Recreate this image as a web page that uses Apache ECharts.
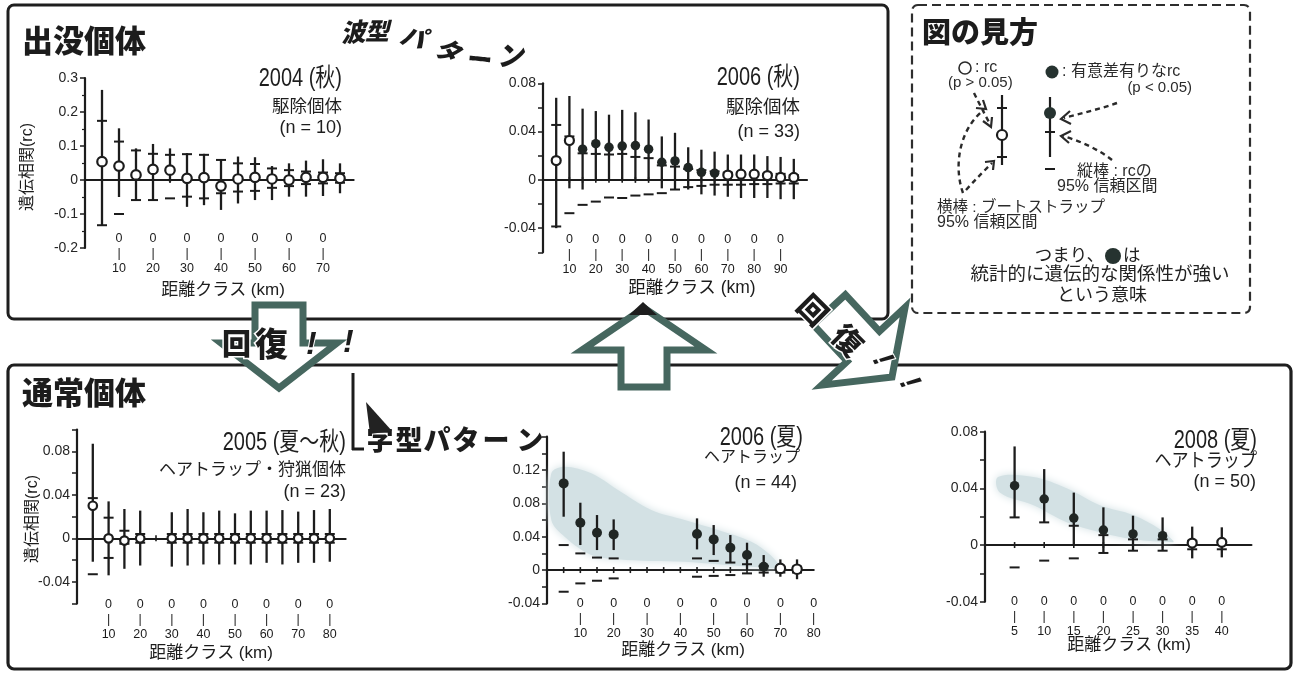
<!DOCTYPE html>
<html>
<head>
<meta charset="utf-8">
<script src="https://cdn.jsdelivr.net/npm/echarts@6/dist/echarts.min.js"></script>
<style>
html,body{margin:0;padding:0;background:#fff}
#c{width:1298px;height:674px}
</style>
</head>
<body>
<div id="c"></div>
<script>
// ---------- spatial genetic correlation (rc) by distance class ----------
// 2004 autumn, culled bears (n = 10)
const km2004   = [5,10,15,20,25,30,35,40,45,50,55,60,65,70,75];
const rc2004   = [0.054,0.041,0.015,0.031,0.029,0.005,0.007,-0.018,0.003,0.008,0.003,0.000,0.008,0.008,0.005];
const ciHi2004 = [0.265,0.152,0.093,0.106,0.093,0.079,0.077,0.059,0.069,0.067,0.041,0.049,0.057,0.061,0.049];
const ciLo2004 = [-0.133,-0.050,-0.059,-0.060,-0.005,-0.079,-0.074,-0.088,-0.069,-0.059,-0.059,-0.049,-0.049,-0.047,-0.039];
const bsHi2004 = [0.174,0.113,0.087,0.077,0.074,0.076,0.074,0.059,0.049,0.047,0.034,0.029,0.025,0.022,0.020];
const bsLo2004 = [-0.133,-0.100,-0.059,-0.059,-0.054,-0.049,-0.054,-0.039,-0.034,-0.032,-0.023,-0.018,-0.012,-0.010,-0.008];
const sig2004  = [0,0,0,0,0,0,0,0,0,0,0,0,0,0,0];

// 2006 autumn, culled bears (n = 33)
const km2006a   = [5,10,15,20,25,30,35,40,45,50,55,60,65,70,75,80,85,90,95];
const rc2006a   = [0.016,0.0326,0.0254,0.030,0.027,0.028,0.0284,0.0254,0.0146,0.0157,0.0102,0.0063,0.0055,0.004,0.0047,0.0047,0.0036,0.002,0.002];
const ciHi2006a = [0.068,0.0695,0.059,0.057,0.054,0.058,0.056,0.050,0.036,0.039,0.027,0.025,0.0234,0.021,0.021,0.021,0.0197,0.019,0.0174];
const ciLo2006a = [-0.040,-0.007,-0.008,-0.001,-0.001,-0.001,-0.001,-0.001,-0.007,-0.008,-0.008,-0.012,-0.013,-0.014,-0.015,-0.015,-0.015,-0.016,-0.016];
const bsHi2006a = [0.0455,0.036,0.022,0.0215,0.021,0.0215,0.019,0.018,0.012,0.011,0.009,0.008,0.007,0.006,0.006,0.006,0.005,0.005,0.004];
const bsLo2006a = [-0.0386,-0.0276,-0.0207,-0.018,-0.0146,-0.015,-0.013,-0.012,-0.011,-0.008,-0.006,-0.005,-0.004,-0.004,-0.004,-0.0035,-0.0035,-0.003,-0.003];
const sig2006a  = [0,0,1,1,1,1,1,1,1,1,1,1,1,0,0,0,0,0,0];

// 2005 summer-autumn, hair traps and hunting (n = 23)
const km2005   = [5,10,15,20,30,35,40,45,50,55,60,65,70,75,80];
const rc2005   = [0.030,0.000,-0.002,0.000,0.000,0.000,0.000,0.000,0.000,0.000,0.000,0.000,0.000,0.000,0.000];
const ciHi2005 = [0.087,0.034,0.027,0.0255,0.024,0.027,0.024,0.0255,0.023,0.0255,0.0255,0.026,0.0246,0.026,0.027];
const ciLo2005 = [-0.0215,-0.034,-0.028,-0.025,-0.026,-0.025,-0.024,-0.024,-0.024,-0.024,-0.0225,-0.024,-0.0225,-0.0225,-0.0215];
const bsHi2005 = [0.037,0.019,0.007,0.004,0.004,0.004,0.004,0.004,0.004,0.004,0.004,0.004,0.004,0.004,0.004];
const bsLo2005 = [-0.033,-0.018,-0.005,-0.004,-0.004,-0.004,-0.004,-0.004,-0.004,-0.004,-0.004,-0.004,-0.004,-0.004,-0.004];
const sig2005  = [0,0,0,0,0,0,0,0,0,0,0,0,0,0,0];

// 2006 summer, hair traps (n = 44)
const km2006s   = [5,10,15,20,45,50,55,60,65,70,75];
const rc2006s   = [0.104,0.0568,0.0448,0.0428,0.0432,0.0368,0.0268,0.018,0.004,0.002,0.001];
const ciHi2006s = [0.142,0.0808,0.066,0.0608,0.062,0.054,0.042,0.0328,0.018,0.0128,0.0128];
const ciLo2006s = [0.064,0.030,0.024,0.024,0.0248,0.018,0.0088,0.000,-0.008,-0.008,-0.011];
const bsHi2006s = [0.030,0.020,0.015,0.014,0.014,0.011,0.009,0.007,0.005,0.004,0.004];
const bsLo2006s = [-0.026,-0.016,-0.0128,-0.010,-0.008,-0.007,-0.006,-0.004,-0.003,-0.003,-0.003];
const sig2006s  = [1,1,1,1,1,1,1,1,1,0,0];
const band2006sKm = [1.3,5.3,13.3,21.3,31.3,41.3,51.3,61.3,67,70, 70,61.3,51.3,41.3,31.3,21.3,13.3,5.3,1.3];
const band2006sRc = [0.116,0.124,0.116,0.096,0.072,0.060,0.048,0.034,0.018,0.004, 0.002,0.004,0.007,0.010,0.011,0.013,0.018,0.040,0.060];

// 2008 summer, hair traps (n = 50)
const km2008   = [5,10,15,20,25,30,35,40];
const rc2008   = [0.0419,0.0325,0.019,0.0106,0.0078,0.0066,0.0014,0.0019];
const ciHi2008 = [0.0696,0.0536,0.037,0.0266,0.0207,0.0195,0.013,0.0125];
const ciLo2008 = [0.0195,0.016,0.000,-0.0056,-0.004,-0.004,-0.0094,-0.0087];
const bsHi2008 = [0.0195,0.016,0.0136,0.007,0.004,0.004,0.003,0.003];
const bsLo2008 = [-0.0158,-0.011,-0.0094,-0.0056,-0.004,-0.004,-0.003,-0.003];
const sig2008  = [1,1,1,1,1,1,0,0];
const band2008Km = [2.2,8.2,13.8,19.4,25.1,29.6,31.8, 31.8,25.1,19.4,13.8,8.2,2.5];
const band2008Rc = [0.048,0.048,0.040,0.028,0.021,0.011,0.003, 0.002,0.004,0.009,0.016,0.028,0.037];

// ---------- styling ----------
const LAT = '"Liberation Sans","Noto Sans CJK JP",sans-serif';
const CJK = '"Noto Sans CJK JP",sans-serif';
const INK = '#1c1c1c';
const ARROW = '#46675f';
const BAND = '#d3e1e4';
const DOT = '#263330';

const panels = [
  {left:85,  top:78,    width:268.6, height:170,   xMax:79,  yMin:-0.2,  yMax:0.3,  yInt:0.1,  labStep:0.1,  labMax:0.3,  digits:1, lastLab:70, xStep:10, labMargin:-16.5, minor:true,
   km:km2004, rc:rc2004, hi:ciHi2004, lo:ciLo2004, bh:bsHi2004, bl:bsLo2004, sig:sig2004, r:10},
  {left:543, top:83.3,  width:264,   height:169,   xMax:100, yMin:-0.06, yMax:0.08, yInt:0.02, labStep:0.04, labMax:0.08, digits:2, lastLab:90, xStep:10, labMargin:-20.5,
   km:km2006a, rc:rc2006a, hi:ciHi2006a, lo:ciLo2006a, bh:bsHi2006a, bl:bsLo2006a, sig:sig2006a, r:9.5},
  {left:77,  top:429.6, width:268.6, height:174,   xMax:85,  yMin:-0.06, yMax:0.10, yInt:0.02, labStep:0.04, labMax:0.08, digits:2, lastLab:80, xStep:10, labMargin:-7,
   km:km2005, rc:rc2005, hi:ciHi2005, lo:ciLo2005, bh:bsHi2005, bl:bsLo2005, sig:sig2005, r:9},
  {left:547, top:436.7, width:266.7, height:166.7, xMax:80,  yMin:-0.04, yMax:0.16, yInt:0.02, labStep:0.04, labMax:0.12, digits:2, lastLab:80, xStep:10, labMargin:-7,
   km:km2006s, rc:rc2006s, hi:ciHi2006s, lo:ciLo2006s, bh:bsHi2006s, bl:bsLo2006s, sig:sig2006s, r:10,
   bandKm:band2006sKm, bandRc:band2006sRc},
  {left:985, top:431.7, width:266.4, height:170,   xMax:45,  yMin:-0.04, yMax:0.08, yInt:0.02, labStep:0.04, labMax:0.08, digits:2, lastLab:40, xStep:5, labMargin:-8,
   km:km2008, rc:rc2008, hi:ciHi2008, lo:ciLo2008, bh:bsHi2008, bl:bsLo2008, sig:sig2008, r:9.5,
   bandKm:band2008Km, bandRc:band2008Rc}
];

function onStep(v, step) {
  const q = v / step;
  return Math.abs(q - Math.round(q)) < 1e-6;
}

const grid = panels.map(p => ({left:p.left, top:p.top, width:p.width, height:p.height, containLabel:false, outerBoundsMode:'none'}));

const xAxis = panels.map((p, i) => ({
  type:'value', gridIndex:i, min:0, max:p.xMax, interval:5,
  splitLine:{show:false},
  axisLine:{onZero:true, lineStyle:{color:INK, width:2.2}},
  axisTick:{show:false},
  axisLabel:{
    margin:p.labMargin, color:INK, fontSize:12.5, lineHeight:15, fontFamily:LAT,
    formatter: v => {
      const r = Math.round(v);
      if (Math.abs(v - r) > 1e-6 || r <= 0 || r > p.lastLab || r % p.xStep) return '';
      return '0\n|\n' + r;
    }
  }
}));

const yAxis = panels.map((p, i) => ({
  type:'value', gridIndex:i, min:p.yMin, max:p.yMax, interval:p.yInt,
  splitLine:{show:false},
  axisLine:{show:true, onZero:false, lineStyle:{color:INK, width:2.2}},
  axisTick:{show:true, length:5, lineStyle:{color:INK, width:1.5}},
  minorTick:{show:!!p.minor, splitNumber:2, length:3, lineStyle:{color:INK, width:1.2}},
  axisLabel:{
    margin:7, color:'#262626', fontSize:14, fontFamily:LAT,
    formatter: v => {
      if (Math.abs(v) < 1e-9) return '0';
      if (!onStep(v, p.labStep) || v > p.labMax + 1e-9) return '';
      return v.toFixed(p.digits);
    }
  }
}));

// vertical bar: 95% confidence interval of rc
function ciBar(params, api) {
  const x = api.value(0);
  const a = api.coord([x, api.value(1)]);
  const b = api.coord([x, api.value(2)]);
  return {type:'line', shape:{x1:a[0], y1:a[1], x2:b[0], y2:b[1]}, style:{stroke:INK, lineWidth:2.3}};
}
// short horizontal marks: bootstrap 95% interval
function bsTicks(params, api) {
  const x = api.value(0);
  const a = api.coord([x, api.value(1)]);
  const b = api.coord([x, api.value(2)]);
  const w = 5;
  return {type:'group', children:[
    {type:'line', shape:{x1:a[0]-w, y1:a[1], x2:a[0]+w, y2:a[1]}, style:{stroke:INK, lineWidth:2}},
    {type:'line', shape:{x1:b[0]-w, y1:b[1], x2:b[0]+w, y2:b[1]}, style:{stroke:INK, lineWidth:2}}
  ]};
}
// small crossing ticks on the zero line at every distance class
function zeroTick(params, api) {
  const c = api.coord([api.value(0), 0]);
  return {type:'line', shape:{x1:c[0], y1:c[1]-3, x2:c[0], y2:c[1]+3}, style:{stroke:INK, lineWidth:1.6}};
}
function bandShape(km, rc) {
  return function (params, api) {
    if (params.dataIndex !== 0) return null;
    const pts = km.map((k, j) => api.coord([k, rc[j]]));
    return {type:'polygon', shape:{points:pts, smooth:0.35},
      style:{fill:BAND, shadowBlur:8, shadowColor:BAND}};
  };
}

const series = [];
panels.forEach((p, i) => {
  if (p.bandKm) {
    series.push({type:'custom', xAxisIndex:i, yAxisIndex:i, z:1, silent:true,
      renderItem:bandShape(p.bandKm, p.bandRc),
      data:p.bandKm.map((k, j) => [k, p.bandRc[j]])});
  }
  const classes = [];
  for (let k = 5; k < p.xMax; k += 5) classes.push([k, 0]);
  series.push({type:'custom', xAxisIndex:i, yAxisIndex:i, z:2, silent:true, renderItem:zeroTick, data:classes});
  series.push({type:'custom', xAxisIndex:i, yAxisIndex:i, z:3, silent:true, renderItem:ciBar,
    data:p.km.map((k, j) => [k, p.lo[j], p.hi[j]])});
  series.push({type:'custom', xAxisIndex:i, yAxisIndex:i, z:3, silent:true, renderItem:bsTicks,
    data:p.km.map((k, j) => [k, p.bl[j], p.bh[j]])});
  series.push({type:'scatter', xAxisIndex:i, yAxisIndex:i, z:5, silent:true, symbol:'circle', symbolSize:p.r - 0.5,
    itemStyle:{color:'#ffffff', borderColor:INK, borderWidth:2.2, opacity:1},
    data:p.km.map((k, j) => [k, p.rc[j]]).filter((d, j) => !p.sig[j])});
  series.push({type:'scatter', xAxisIndex:i, yAxisIndex:i, z:5, silent:true, symbol:'circle', symbolSize:p.r,
    itemStyle:{color:'#202624', opacity:1},
    data:p.km.map((k, j) => [k, p.rc[j]]).filter((d, j) => p.sig[j])});
});

// ---------- graphic helpers ----------
function T(x, y, text, o) {
  o = o || {};
  return {type:'text', x:x, y:y, rotation:o.rot || 0, scaleX:o.sx || 1, z:o.z || 20,
    style:{text:text, fill:o.color || INK, fontSize:o.size || 16, fontFamily:o.family || LAT,
      fontWeight:o.weight || 'normal', fontStyle:o.style || 'normal',
      align:o.align || 'left', verticalAlign:'middle',
      stroke:o.stroke || null, lineWidth:o.lw || 0}};
}
function L(x1, y1, x2, y2, o) {
  o = o || {};
  return {type:'line', z:o.z || 20, shape:{x1:x1, y1:y1, x2:x2, y2:y2},
    style:{stroke:o.color || INK, lineWidth:o.w || 2, lineDash:o.dash || null}};
}
function BZ(x1, y1, c1x, c1y, c2x, c2y, x2, y2) {
  return {type:'bezierCurve', z:20, shape:{x1:x1, y1:y1, cpx1:c1x, cpy1:c1y, cpx2:c2x, cpy2:c2y, x2:x2, y2:y2},
    style:{stroke:'#2a2a2a', lineWidth:2.4, lineDash:[5,4], fill:null}};
}
function chevron(pts) {
  return {type:'polyline', z:20, shape:{points:pts}, style:{stroke:'#2a2a2a', lineWidth:2.2, fill:null}};
}
function dot(cx, cy, r, open) {
  return {type:'circle', z:21, shape:{cx:cx, cy:cy, r:r},
    style: open ? {fill:'#fff', stroke:'#2b2b2b', lineWidth:1.6} : {fill:DOT}};
}
// hollow block arrow, tip at (tx,ty), pointing along +y rotated by ang
function arrow(tx, ty, ang, H, Lh, sw, hw) {
  const loc = [[-sw,-(H+Lh)],[sw,-(H+Lh)],[sw,-H],[hw,-H],[0,0],[-hw,-H],[-sw,-H]];
  const c = Math.cos(ang), s = Math.sin(ang);
  const pts = loc.map(q => [tx + q[0]*c - q[1]*s, ty + q[0]*s + q[1]*c]);
  return {type:'polygon', z:8, shape:{points:pts},
    style:{fill:'#ffffff', stroke:ARROW, lineWidth:7, lineJoin:'miter'}};
}

const title = (x, y, s) => T(x, y, s, {size:25, sx:0.8, align:'right', color:'#1e1e1e'});
const sub = (x, y, s, size, sx) => T(x, y, s, {size:size || 17, sx:sx || 1, align:'right', color:'#1e1e1e'});

const graphic = [
  // frames
  {type:'rect', z:2, shape:{x:8, y:5, width:880, height:314, r:6}, style:{fill:null, stroke:'#1e1e1e', lineWidth:3}},
  {type:'rect', z:2, shape:{x:8, y:365, width:1283, height:304, r:6}, style:{fill:null, stroke:'#1e1e1e', lineWidth:3.2}},
  {type:'rect', z:2, shape:{x:912, y:5, width:338, height:308, r:6}, style:{fill:null, stroke:'#2e2e2e', lineWidth:2.2, lineDash:[9,5]}},

  // section headings
  T(22, 40, '出没個体', {size:31, weight:900, family:CJK}),
  T(22, 392, '通常個体', {size:31, weight:900, family:CJK}),
  T(922, 32, '図の見方', {size:29, weight:900, family:CJK}),

  // panel captions
  title(342, 79, '2004 (秋)'), sub(342, 107, '駆除個体', 17.5), sub(342, 128, '(n = 10)', 18),
  title(800, 78, '2006 (秋)'), sub(800, 108, '駆除個体', 18.5), sub(800, 132, '(n = 33)', 18),
  title(346, 443, '2005 (夏〜秋)'), sub(346, 470, 'ヘアトラップ・狩猟個体', 17), sub(346, 492, '(n = 23)', 18),
  title(803, 438, '2006 (夏)'), sub(800, 458, 'ヘアトラップ', 16), sub(797, 483, '(n = 44)', 18),
  title(1257, 441, '2008 (夏)'), sub(1257, 462, 'ヘアトラップ', 19, 0.9), sub(1256, 482, '(n = 50)', 18),

  // axis titles
  T(28, 167, '遺伝相関(rc)', {size:16, rot:Math.PI/2, align:'center'}),
  T(33, 519, '遺伝相関(rc)', {size:16, rot:Math.PI/2, align:'center'}),
  T(223, 290, '距離クラス (km)', {size:17, align:'center'}),
  T(692, 288, '距離クラス (km)', {size:17.5, align:'center'}),
  T(211, 653, '距離クラス (km)', {size:17, align:'center'}),
  T(683, 650, '距離クラス (km)', {size:17, align:'center'}),
  T(1129, 645, '距離クラス (km)', {size:17, align:'center'}),

  // block arrows between panels
  arrow(279, 388, 0, 45, 38, 24, 58),
  arrow(644, 308, Math.PI, 42, 37, 23, 62),
  arrow(892, 377, -0.75, 42, 50, 22, 57),
  {type:'polygon', z:9, shape:{points:[[629,315],[657,315],[643,302]]}, style:{fill:'#1e1e1e'}},

  // 回復!! (left)
  T(222, 344, '回', {size:29, weight:900, family:CJK, stroke:'#ffffff', lw:3, z:22}),
  T(255, 343, '復', {size:33, weight:900, family:CJK, stroke:'#ffffff', lw:3, z:22}),
  T(306, 345, '!', {size:32, weight:'bold', style:'italic', stroke:'#ffffff', lw:2, z:22}),
  T(343, 343, '!', {size:32, weight:'bold', style:'italic', z:22}),
  // 回復!! (diagonal)
  T(813, 310, '回', {size:29, weight:900, family:CJK, rot:-Math.PI/4, align:'center', stroke:'#ffffff', lw:3, z:22}),
  T(848, 340, '復', {size:30, weight:900, family:CJK, rot:-Math.PI/4, align:'center', stroke:'#ffffff', lw:3, z:22}),
  T(882, 360, '!', {size:30, weight:'bold', style:'italic', rot:-Math.PI/4 - 0.3, align:'center', stroke:'#ffffff', lw:2, z:22}),
  T(909, 383, '!', {size:30, weight:'bold', style:'italic', rot:-Math.PI/4 - 0.3, align:'center', z:22}),

  // 波型パターン
  T(353, 32, '波', {size:25, weight:900, family:CJK, style:'italic', align:'center', rot:0.08}),
  T(377, 31, '型', {size:24, weight:900, family:CJK, style:'italic', align:'center', rot:0.0}),
  T(413, 37, 'パ', {size:25, weight:900, family:CJK, style:'italic', align:'center', rot:-0.25}),
  T(448, 50, 'タ', {size:25, weight:900, family:CJK, style:'italic', align:'center', rot:-0.4}),
  T(480, 59, 'ー', {size:25, weight:900, family:CJK, align:'center', rot:-0.1}),
  T(510, 55, 'ン', {size:27, weight:900, family:CJK, style:'italic', align:'center', rot:0.05}),

  // L字型パターン
  L(353, 373, 353, 450, {w:3}),
  L(352, 449, 364, 449, {w:3}),
  T(380, 440, '字', {size:27, weight:900, family:CJK, align:'center'}),
  {type:'polygon', z:21, shape:{points:[[366,402],[370,434],[392,431]]}, style:{fill:'#222'}},
  T(409, 440, '型', {size:27, weight:900, family:CJK, align:'center'}),
  T(437, 440, 'パ', {size:27, weight:900, family:CJK, align:'center'}),
  T(466, 440, 'タ', {size:27, weight:900, family:CJK, align:'center'}),
  T(496, 440, 'ー', {size:27, weight:900, family:CJK, align:'center'}),
  T(530, 440, 'ン', {size:27, weight:900, family:CJK, align:'center'}),

  // how-to-read key
  dot(965, 68, 6, true),
  T(975, 68, ': rc', {size:16, color:'#2b2b2b'}),
  T(948, 83, '(p > 0.05)', {size:15, color:'#2b2b2b'}),
  dot(1052, 72, 6.5, false),
  T(1062, 72, ': 有意差有りなrc', {size:16, color:'#2b2b2b'}),
  T(1192, 88, '(p < 0.05)', {size:15, color:'#2b2b2b', align:'right'}),
  L(1002, 95, 1002, 165, {w:2.2}),
  L(997, 108, 1007, 108, {w:2}),
  L(997, 157, 1007, 157, {w:2}),
  {type:'circle', z:21, shape:{cx:1002, cy:135, r:5}, style:{fill:'#fff', stroke:INK, lineWidth:2.2}},
  L(1050, 97, 1050, 157, {w:2.2}),
  L(1045, 132, 1055, 132, {w:2}),
  L(1045, 169, 1055, 169, {w:2}),
  {type:'circle', z:21, shape:{cx:1050, cy:113, r:6}, style:{fill:DOT}},
  BZ(974, 93, 979, 103, 984, 113, 990, 124),
  chevron([[983,121],[991,127],[992,117]]),
  BZ(963, 193, 953, 165, 960, 128, 984, 110),
  chevron([[976,108],[986,109],[983,100]]),
  BZ(966, 190, 975, 180, 983, 172, 992, 163),
  chevron([[985,162],[994,161],[993,170]]),
  BZ(1117, 103, 1100, 109, 1082, 113, 1064, 118),
  chevron([[1070,111],[1061,119],[1071,124]]),
  BZ(1112, 160, 1098, 149, 1080, 141, 1063, 136),
  chevron([[1071,131],[1061,136],[1069,143]]),
  T(1077, 172, '縦棒 : rcの', {size:16, color:'#2b2b2b'}),
  T(1057, 187, '95% 信頼区間', {size:16, color:'#2b2b2b'}),
  T(937, 208, '横棒 : ブートストラップ', {size:15.5, color:'#2b2b2b'}),
  T(937, 223, '95% 信頼区間', {size:16, color:'#2b2b2b'}),
  T(1104, 256, 'つまり、', {size:17.5, align:'right', color:'#222'}),
  dot(1113, 256, 8, false),
  T(1123, 256, 'は', {size:17.5, color:'#222'}),
  T(1100, 275, '統計的に遺伝的な関係性が強い', {size:18.5, align:'center', color:'#222'}),
  T(1102, 296, 'という意味', {size:18, align:'center', color:'#222'})
];

const chart = echarts.init(document.getElementById('c'), null, {renderer:'canvas'});
chart.setOption({
  backgroundColor:'#ffffff',
  animation:false,
  grid:grid, xAxis:xAxis, yAxis:yAxis, series:series,
  graphic:{elements:graphic}
});
</script>
</body>
</html>
